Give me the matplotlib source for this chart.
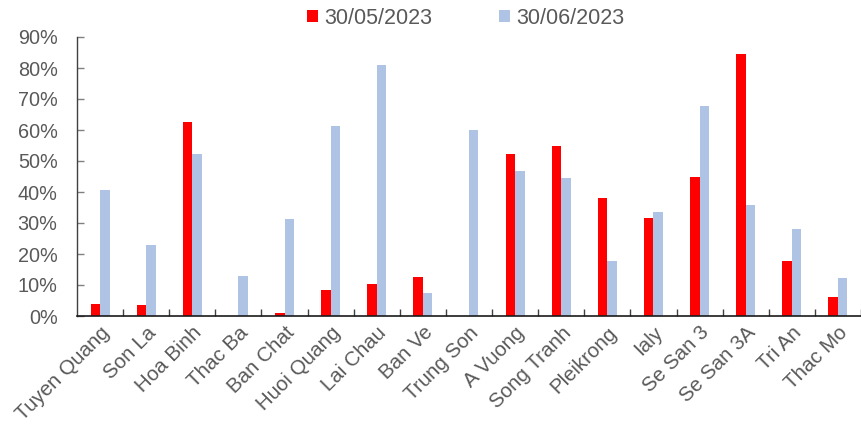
import matplotlib
matplotlib.use("Agg")
import matplotlib.pyplot as plt
from matplotlib.patches import Patch
from matplotlib.ticker import FuncFormatter, MultipleLocator
import numpy as np

plt.rcParams['font.family'] = ['Liberation Sans', 'DejaVu Sans']

reservoirs = ["Tuyen Quang", "Son La", "Hoa Binh", "Thac Ba", "Ban Chat",
              "Huoi Quang", "Lai Chau", "Ban Ve", "Trung Son", "A Vuong",
              "Song Tranh", "Pleikrong", "Ialy", "Se San 3", "Se San 3A",
              "Tri An", "Thac Mo"]
may_2023 = [3.8, 3.5, 62.5, 0.0, 1.1, 8.5, 10.3, 12.6, 0.0, 52.2,
            54.7, 38.2, 31.5, 45.0, 84.6, 17.9, 6.0]
jun_2023 = [40.6, 22.9, 52.1, 12.9, 31.3, 61.2, 81.0, 7.3, 59.9, 46.9,
            44.4, 17.6, 33.5, 67.9, 35.9, 28.0, 12.2]
series_labels = ["30/05/2023", "30/06/2023"]

RED = "#FF0000"
BLUE = "#AFC3E5"
TEXT = "#595959"

fig = plt.figure(figsize=(8.61, 4.26), dpi=100)
ax = fig.add_axes([77 / 861, 1 - 316 / 426, 1 - 77 / 861, (316 - 37) / 426])

x = np.arange(len(reservoirs))
w = 0.205
ax.bar(x - w / 2, may_2023, width=w, color=RED, zorder=2)
ax.bar(x + w / 2, jun_2023, width=w, color=BLUE, zorder=2)

ax.set_xlim(-0.5, len(reservoirs) - 0.5)
ax.set_ylim(0, 90)
ax.yaxis.set_major_locator(MultipleLocator(10))
ax.yaxis.set_major_formatter(FuncFormatter(lambda v, p: f"{v:.0f}%"))

for side in ("top", "right"):
    ax.spines[side].set_visible(False)
ax.spines["left"].set_color("#404040")
ax.spines["bottom"].set_color("#1a1a1a")
ax.spines["left"].set_linewidth(1.0)
ax.spines["bottom"].set_linewidth(1.2)

ax.tick_params(axis="y", direction="in", length=5, width=1, color="#808080",
               labelsize=14.3, labelcolor=TEXT, pad=14)

ax.set_xticks(x)
ax.set_xticklabels(reservoirs, rotation=45, ha="right", va="top",
                   rotation_mode="anchor")
ax.set_xticks(np.arange(len(reservoirs)) + 0.5, minor=True)
ax.tick_params(axis="x", which="major", length=0, labelsize=14.8,
               labelcolor=TEXT, pad=5)
ax.tick_params(axis="x", which="minor", direction="in", length=5, width=1,
               color="#404040")

handles = [Patch(facecolor=RED, edgecolor="none"),
           Patch(facecolor=BLUE, edgecolor="none")]
leg = fig.legend(handles, series_labels, loc="center",
                 bbox_to_anchor=(466 / 861, 1 - 18 / 426), ncol=2,
                 frameon=False, fontsize=15.5, handlelength=0.5,
                 handleheight=0.5, handletextpad=0.3, columnspacing=3.1)
for t in leg.get_texts():
    t.set_color(TEXT)

fig.savefig("out.png", dpi=100)
